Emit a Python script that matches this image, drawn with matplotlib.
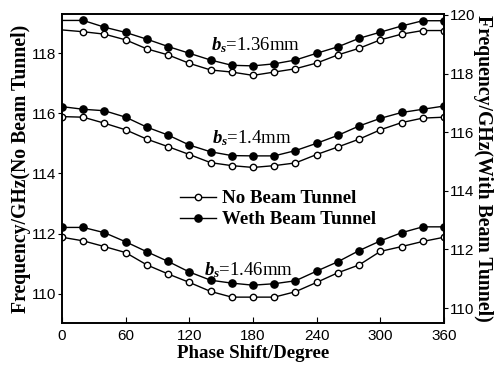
import numpy as np
import matplotlib.pyplot as plt

# phase shift (degree)
phase = [0, 20, 40, 60, 80, 100, 120, 140, 160, 180,
         200, 220, 240, 260, 280, 300, 320, 340, 360]

# no beam tunnel (left axis)
no_136 = [118.77, 118.71, 118.63, 118.44, 118.14, 117.94, 117.66, 117.44, 117.37, 117.26,
          117.37, 117.48, 117.67, 117.94, 118.16, 118.44, 118.63, 118.75, 118.75]
no_140 = [115.89, 115.87, 115.67, 115.45, 115.14, 114.89, 114.63, 114.36, 114.26, 114.20,
          114.26, 114.35, 114.63, 114.88, 115.14, 115.45, 115.69, 115.84, 115.87]
no_146 = [111.88, 111.76, 111.57, 111.37, 110.96, 110.66, 110.38, 110.08, 109.89, 109.89,
          109.89, 110.07, 110.38, 110.70, 110.96, 111.41, 111.57, 111.74, 111.88]

# with beam tunnel (right axis)
with_136 = [119.81, 119.81, 119.58, 119.40, 119.17, 118.92, 118.69, 118.46, 118.28, 118.26,
            118.33, 118.46, 118.69, 118.91, 119.20, 119.41, 119.62, 119.80, 119.80]
with_140 = [116.87, 116.78, 116.73, 116.51, 116.17, 115.90, 115.56, 115.33, 115.20, 115.19,
            115.19, 115.37, 115.62, 115.89, 116.21, 116.47, 116.67, 116.78, 116.89]
with_146 = [112.75, 112.75, 112.57, 112.26, 111.92, 111.59, 111.23, 110.95, 110.85, 110.78,
            110.83, 110.93, 111.26, 111.58, 111.96, 112.29, 112.57, 112.77, 112.77]

curve_labels = ["$b_s$=1.36mm", "$b_s$=1.4mm", "$b_s$=1.46mm"]
legend_labels = ['No Beam Tunnel', 'Weth Beam Tunnel']

plt.rcParams['font.family'] = 'Liberation Sans'
plt.rcParams['mathtext.fontset'] = 'custom'
plt.rcParams['mathtext.it'] = 'Liberation Serif:italic:bold'
plt.rcParams['mathtext.rm'] = 'Liberation Serif:bold'

fig = plt.figure(figsize=(5, 3.72), dpi=100)
ax1 = fig.add_axes([0.124, 0.1317, 0.764, 0.8307])
ax2 = ax1.twinx()

lw = 1.0
ms_open = 4.6
ms_fill = 5.2
k = 'black'

# the top pair has no marker drawn at 0 degree
top_every = list(range(1, len(phase)))
for ys, me in [(no_136, top_every), (no_140, None), (no_146, None)]:
    l1, = ax1.plot(phase, ys, '-o', color=k, lw=lw, ms=ms_open, mfc='white',
                   mec=k, mew=1.0, markevery=me)
for ys, me in [(with_136, top_every), (with_140, None), (with_146, None)]:
    l2, = ax2.plot(phase, ys, '-o', color=k, lw=lw, ms=ms_fill, mfc=k,
                   mec=k, markevery=me)

ax1.set_xlim(0, 360)
ax1.set_ylim(109.03, 119.3)
ax2.set_ylim(109.49, 120.03)
ax1.set_xticks([0, 60, 120, 180, 240, 300, 360])
ax1.set_yticks([110, 112, 114, 116, 118])
ax2.set_yticks([110, 112, 114, 116, 118, 120])

ax1.tick_params(axis='x', direction='in', length=4, labelsize=11, pad=4)
ax1.tick_params(axis='y', direction='out', length=3, labelsize=11, pad=1)
ax2.tick_params(axis='y', direction='out', length=3, labelsize=11, pad=1)
for a in (ax1, ax2):
    for s in a.spines.values():
        s.set_linewidth(1.2)

ax1.set_xlabel('Phase Shift/Degree', family='Liberation Serif', weight='bold',
               size=13.6, labelpad=2)
ax1.set_ylabel('Frequency/GHz(No Beam Tunnel)', family='Liberation Serif',
               weight='bold', size=14.2, labelpad=1)
ax2.set_ylabel('Frequency/GHz(With Beam Tunnel)', family='Liberation Serif',
               weight='bold', size=14.2, rotation=270, labelpad=13)

txt = {'family': 'Liberation Serif', 'size': 13.5}
ax1.text(140, 118.28, curve_labels[0], fontdict=txt, va='center')
ax1.text(141, 115.17, curve_labels[1], fontdict=txt, va='center')
ax1.text(134, 110.8, curve_labels[2], fontdict=txt, va='center')

leg = ax1.legend([l1, l2], legend_labels,
                 loc='upper left', bbox_to_anchor=(0.29, 0.455), frameon=False,
                 prop={'family': 'Liberation Serif', 'weight': 'bold', 'size': 13.6},
                 handlelength=1.9, handletextpad=0.3, labelspacing=0.2,
                 borderaxespad=0)

fig.savefig('out.png', dpi=100)
